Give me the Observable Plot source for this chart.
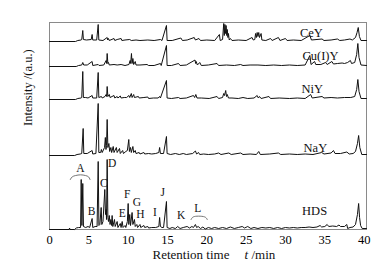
<!DOCTYPE html>
<html><head><meta charset="utf-8">
<script src="https://cdn.jsdelivr.net/npm/d3@7"></script>
<script src="https://cdn.jsdelivr.net/npm/@observablehq/plot@0.6"></script>
<style>body{margin:0;background:#fff}</style>
</head><body><div id="chart"></div>
<script>
// ---- data ----
const xTicks = [0, 5, 10, 15, 20, 25, 30, 35, 40];
const seriesNames = ["HDS", "NaY", "NiY", "Cu(I)Y", "CeY"];

const hdsT = [0,2.5,2.55,2.6,3.2,3.4,3.7,3.95,4.03,4.12,4.23,4.32,4.6,4.9,5.1,5.42,5.5,5.8,6.05,6.19,6.28,6.4,6.57,6.65,6.8,7.03,7.12,7.2,7.25,7.33,7.42,7.5,7.6,7.7,7.8,7.9,7.96,8.05,8.26,8.35,8.6,8.7,9.0,9.1,9.24,9.35,9.6,9.7,9.9,10.0,10.08,10.2,10.3,10.5,10.6,10.8,10.9,11.1,11.2,11.5,11.6,12.0,12.1,12.5,12.6,13.0,13.5,13.9,14.0,14.1,14.3,14.5,14.87,14.95,15.3,15.6,16.0,16.3,16.6,17.0,17.5,17.8,18.1,18.3,18.55,18.7,18.9,19.2,19.5,19.8,20.2,20.6,21,21.5,22,22.5,23,23.5,24,24.5,24.8,25.2,25.6,26,26.5,27,27.5,28,28.5,29,29.5,30,30.5,31,31.5,32,32.5,33,33.5,34,34.4,34.6,35,35.3,35.5,36,36.5,36.8,37,37.5,37.8,37.9,38.2,38.6,38.9,39.15,39.3,39.42,39.55,39.75,40.3];
const hdsV = [0,0,1.5,0,0,1.5,2,2,50,4,46,3,2,3,2,11,2,3,3,68,4,5,22,5,8,40,15,20,10,70,12,8,14,5,10,4,14,3,10,3,8,2,6,2,8,2,4,2,8,26,5,15,4,17,5,10,3,5,2,5,2,4,2,3,1.5,2,2,3,12,3,2,2,28,2,1,2,1,3,1,2,3,1.5,3,2,5,2,3,1,2.5,0.5,2,1,2,1,2,1,2.5,1,2,3,1.5,3,1,2,1,2,1.5,2,1,2,1,2,1.5,2,1.5,2,2,2.5,2,2.5,4,2.5,3,5,3,3.5,3,4.5,3,3,5,1,2,2.5,5,15,26,12,4,1,1];

const nayT = [0,3.2,3.5,3.9,4.1,4.28,4.36,4.8,5.42,5.5,5.9,6.19,6.27,6.5,6.6,6.7,7.0,7.1,7.18,7.25,7.33,7.42,7.55,7.65,7.8,7.9,8.1,8.2,8.5,8.6,8.9,9.0,9.3,9.4,9.7,9.9,10.08,10.16,10.3,10.4,10.6,10.7,10.9,11.0,11.4,11.5,12,12.1,12.6,13,13.5,13.9,14.0,14.1,14.5,14.87,14.95,15.4,16,16.5,17,17.4,18.2,18.55,18.7,18.95,19.1,19.6,20.2,21,21.5,21.8,22.8,23.1,24.3,24.6,25.5,26.3,26.6,26.8,28,29.1,29.4,30.5,31.5,32.5,33.5,34.6,34.9,35.8,36.1,36.3,37,37.8,38.1,38.6,38.9,39.15,39.3,39.45,39.7,40.3];
const nayV = [0,0,1,1.5,2,27,2,2,5,1.5,2,52,3,3,6,3,8,18,6,10,36,8,12,4,8,3,9,3,8,3,7,2,5,2,4,5,16,4,8,3,9,3,5,2,3,1.5,3,1.5,2,1.5,2,3,8,2,2,19,2,1,2,1,2,1,2,4.5,1.5,3,1,1.5,1,1.5,2.5,1,2.5,1,2.5,1,1.5,1,4,1,1.5,2.5,1,1.5,1,1.5,1,3,1.5,2.5,5,2,2,3.5,1.5,2,4,12,20,8,1,1];

const niyT = [0,3.3,3.6,4.0,4.1,4.23,4.31,4.6,4.9,5.42,5.5,6.0,6.19,6.27,6.6,6.7,7.05,7.2,7.27,7.33,7.42,7.6,7.7,8.2,8.3,8.6,8.7,9.0,9.1,9.5,9.8,10.1,10.2,10.4,10.5,10.7,10.8,11.3,11.4,12,12.5,12.6,13.2,13.8,14.0,14.1,14.87,14.95,15.5,16.4,16.6,17.4,18.3,18.45,18.6,18.75,19.3,20.3,21.3,21.5,22.0,22.15,22.25,22.4,22.5,22.6,22.75,23.2,24,24.6,25.2,26.0,26.4,26.55,26.7,26.9,27.9,28.1,29.2,30.5,31.5,32.5,33.2,33.4,34.65,34.9,35.8,36.6,37.5,38.3,38.8,39.05,39.2,39.35,39.6,40.3];
const niyV = [0,0,1,1.5,2,28,2,2,1.5,4,1.5,1.5,27,2,3,1.5,3,5,3,13,3,5,2,4,1.5,3,1.5,3.5,1.5,2,2,4,2,6,2,5,2,3,1.5,2,2.5,1,1.5,1.5,3,1.5,19,1.5,1,2,1,1.5,4,2,5,1.5,1.5,1,3,1,2,6,4,9,3,5,1.5,1.5,1,2,1,1.5,4,1.5,3,1,3,1,1.5,1,1.5,1,5,1.5,3,1.5,2,1.5,2,2,3,10,20,8,1,1];

const cuyT = [0,3.4,3.7,4.1,4.23,4.35,4.8,5.42,5.5,6.19,6.3,6.9,7.2,7.27,7.33,7.42,7.5,7.6,8.2,8.6,9.1,9.6,10.1,10.25,10.32,10.42,10.5,10.6,10.7,10.9,11.0,11.5,12.4,12.6,13.3,14.1,14.2,14.87,14.95,15.5,16.4,16.6,17.4,18.5,18.58,18.65,18.8,19.1,19.3,20.2,21.3,21.5,22.5,23.5,24.3,24.6,25.5,26.5,27.5,28.5,29.5,30.5,31.5,32.5,33.1,33.25,33.7,33.85,34.5,35.1,35.3,35.9,36.1,36.6,37.2,37.5,37.9,38.25,38.4,38.8,39.05,39.2,39.35,39.6,40.3];
const cuyV = [0,0,1,1.5,4,1.5,1.5,5,1,2,1,1.5,6,3,13,3,4,1.5,2,1.5,2,1,2,6,3,13,3,8,2,5,1.5,1.5,2,1,1,3,1,21,1,1,3,1,1.5,6.5,3,5,1.5,4,1,1.5,3,1,1.5,1,2,1,1.5,1.5,1,1.5,1,1.5,1,1.5,11,2,5,2,2,4,2,5,2.5,3,3.5,3,4,6,3,4,12,23,9,1.5,1];

const ceyT = [0,3.3,3.6,4.0,4.1,4.23,4.31,4.7,5.3,5.42,5.5,6.0,6.19,6.27,6.8,7.33,7.4,7.5,7.6,8.2,8.3,8.6,9.1,9.2,9.6,10.2,10.4,11,11.5,12.5,13.3,14.1,14.3,14.87,14.95,15.6,16.7,16.9,17.5,18.4,18.55,19.0,19.2,20,21.0,21.6,21.7,22.0,22.15,22.22,22.3,22.38,22.45,22.53,22.6,22.68,22.75,22.85,23.0,23.2,24,25,25.75,25.9,26.1,26.2,26.3,26.4,26.5,26.6,26.7,26.9,27.0,27.5,28.1,28.3,29.1,29.3,30,30.2,31,32,33.1,33.3,34.65,34.9,35.8,36.6,36.9,37.5,38.2,38.5,38.9,39.1,39.25,39.4,39.6,40.3];
const ceyV = [0,0,1,1.5,2,11,2,1.5,2,7,1.5,1.5,17,1.5,1,4,1.5,3,1,3,1,2,3,1,1.5,2,1,1.5,1,1.5,1,2,1,16,1,1,3.5,1,1.5,4,1.5,3,1,1.5,1,7,1,2,18,6,17,8,16,6,12,4,8,1.5,3,1,1.5,1,4,1.5,2,8,4,9,5,9,4,8,1.5,1,3,1,4,1,3,1,1.5,1,6,1.5,2.5,1,1.5,2.5,1,1.5,2.5,1.5,4,9,14,5,1,1];

// peak letters on the HDS trace
const peakLetters = ["A","B","C","D","E","F","G","H","I","J","K","L"];
const letterT = [3.94,5.34,6.9,7.97,9.24,9.87,11.1,11.55,13.4,14.4,16.74,18.86];
const letterV = [60.7,18.3,46.3,65.7,16.3,35,27.5,15.5,17.3,37.3,14,20.7];
// brackets over groups A and L
const braceAT = [2.65,2.85,3.3,3.94,4.6,5.0,5.15];
const braceAV = [50,53,54,55,54,53,50];
const braceLT = [18.0,18.2,18.9,19.85,20.05];
const braceLV = [10,13,13.5,13,10];

// series label anchors
const labelT = [33.7,33.8,33.4,34.45,33.3];
const labelV = [19,82,141,174,197];

// ---- build ----
const offsets = {"HDS":0, "NaY":74, "NiY":130, "Cu(I)Y":163, "CeY":188};
const traces = {"HDS":[hdsT,hdsV], "NaY":[nayT,nayV], "NiY":[niyT,niyV], "Cu(I)Y":[cuyT,cuyV], "CeY":[ceyT,ceyV]};
const rows = [];
for (const s of seriesNames) {
  const [ts, vs] = traces[s];
  ts.forEach((t, i) => rows.push({s, t, y: vs[i] + offsets[s]}));
}
const labels = seriesNames.map((s, i) => ({s, t: labelT[i], y: labelV[i]}));
const letters = peakLetters.map((l, i) => ({l, t: letterT[i], y: letterV[i]}));
const braces = [
  ...braceAT.map((t, i) => ({g: "A", t, y: braceAV[i]})),
  ...braceLT.map((t, i) => ({g: "L", t, y: braceLV[i]}))
];

const chart = Plot.plot({
  width: 386, height: 268,
  marginLeft: 49, marginRight: 20, marginTop: 22, marginBottom: 39,
  x: {domain: [0, 40.3]},
  y: {domain: [0, 207], axis: null},
  style: {fontFamily: "'Liberation Serif', 'Times New Roman', serif", fontSize: "12px", background: "#fff", color: "#000"},
  marks: [
    Plot.frame({stroke: "#8a8a8a"}),
    Plot.axisX({ticks: xTicks, tickSize: 0, tickPadding: 6, label: null, fontSize: 12.5}),
    Plot.line(rows, {x: "t", y: "y", z: "s", stroke: "#111", strokeWidth: 1}),
    Plot.line(braces, {x: "t", y: "y", z: "g", stroke: "#666", strokeWidth: 0.9, curve: "basis"}),
    Plot.text(labels, {x: "t", y: "y", text: "s", fontSize: 12.5, fill: "#111"}),
    Plot.text(letters, {x: "t", y: "y", text: "l", fontSize: 11.5, fill: "#111"}),
    Plot.text(["Intensity /(a.u.)"], {frameAnchor: "left", dx: -22, rotate: -90, fontSize: 12.5, fill: "#111"}),
    Plot.text(["Retention time"], {frameAnchor: "bottom-left", textAnchor: "start", dx: 103, dy: 29, fontSize: 13, fill: "#111"}),
    Plot.text(["t"], {frameAnchor: "bottom-left", textAnchor: "start", dx: 195, dy: 29, fontSize: 13, fontStyle: "italic", fill: "#111"}),
    Plot.text(["/min"], {frameAnchor: "bottom-left", textAnchor: "start", dx: 202, dy: 29, fontSize: 13, fill: "#111"})
  ]
});
document.getElementById("chart").appendChild(chart);
</script></body></html>
